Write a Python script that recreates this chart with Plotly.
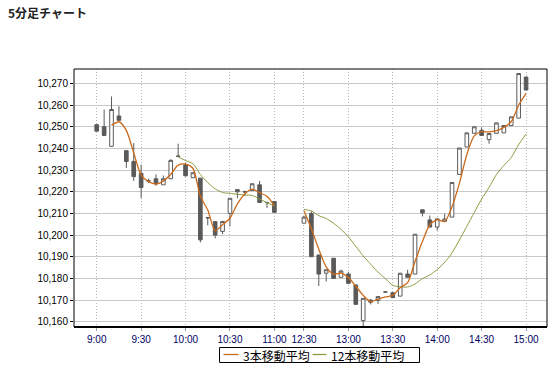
import plotly.graph_objects as go
import pandas as pd

# ---- data (5-minute bars) ----
times = ["9:00","9:05","9:10","9:15","9:20","9:25","9:30","9:35","9:40","9:45","9:50","9:55",
         "10:00","10:05","10:10","10:15","10:20","10:25","10:30","10:35","10:40","10:45","10:50","10:55","11:00",
         "12:30","12:35","12:40","12:45","12:50","12:55","13:00","13:05","13:10","13:15","13:20","13:25",
         "13:30","13:35","13:40","13:45","13:50","13:55","14:00","14:05","14:10","14:15","14:20","14:25",
         "14:30","14:35","14:40","14:45","14:50","14:55","15:00"]
opens = [10251,10250,10241,10255,10239,10234,10228.5,10225,10226,10223.2,10226,10236.4,
         10232.5,10226.5,10226.3,10208,10206.2,10201.7,10210,10221,10220,10220.6,10223.2,10215,10215.5,
         10205.5,10210,10190.8,10182.4,10189.3,10180.5,10182,10177,10160.5,10170,10169.8,10173.7,
         10173.4,10171.8,10182,10182,10211.7,10207,10203.7,10206.3,10208.3,10228,10240.7,10247,
         10248.4,10244.1,10247,10247.2,10250.6,10254,10273]
highs = [10251,10258,10264,10259.5,10239,10242.5,10232.5,10226,10228,10227.5,10235,10242.2,
         10233.3,10229,10226.3,10208,10206.5,10206.3,10217,10221,10220.5,10223.7,10225,10215.5,10215.5,
         10209,10211,10190.8,10184,10189.3,10184,10183,10177,10170.8,10170.3,10171.6,10174,
         10173.4,10182.4,10184,10200.4,10211.7,10209,10207.5,10209.8,10224.3,10240.2,10247.2,10250,
         10249.8,10246.9,10251.8,10250.6,10254.6,10274.6,10273]
lows = [10248,10246,10241,10253,10231,10225,10217,10224,10222.7,10223.2,10226,10236,
        10227,10226.5,10196.6,10204.5,10198.5,10200.5,10204,10217,10218,10220.6,10215,10212.5,10210.5,
        10205.5,10190,10176.5,10178.5,10180,10180.5,10177.7,10168,10157,10168,10168.2,10173.7,
        10171.1,10171.8,10180.5,10182,10208.6,10203.7,10202.1,10206.3,10208.3,10228,10240.7,10247,
        10246,10242.2,10247,10247.2,10250.6,10254,10267]
closes = [10248,10246,10258,10253,10234,10227,10222,10225,10223.7,10226,10234.5,10236.4,
          10227.4,10228.8,10197.8,10208,10200,10206.3,10217,10220,10220,10223.7,10215.1,10215,10210.5,
          10208.3,10190,10182,10184,10180,10183.4,10177.7,10168,10170.8,10169,10171.6,10173.7,
          10171.1,10182.4,10180.5,10200.4,10210.2,10203.7,10207.5,10207.4,10224.3,10240.2,10247.2,10250,
          10246,10246.9,10251.8,10250.6,10254.6,10274.6,10267]

tick_labels = ["9:00","9:30","10:00","10:30","11:00","12:30","13:00","13:30","14:00","14:30","15:00"]
lunch_gap_slots = 3  # empty slots drawn between 11:00 and 12:30


def slot_of(t):
    h, m = map(int, t.split(":"))
    mins = h * 60 + m
    if mins <= 11 * 60:
        return (mins - 9 * 60) // 5
    return 24 + 1 + lunch_gap_slots + (mins - (12 * 60 + 30)) // 5


xs = [slot_of(t) for t in times]
tickvals = [slot_of(t) for t in tick_labels]

ma3 = pd.Series(closes).rolling(3).mean().tolist()
ma12 = pd.Series(closes).rolling(12).mean().tolist()


def with_gap(x, y):
    ox, oy = [], []
    for i, (a, b) in enumerate(zip(x, y)):
        if i > 0 and a - x[i - 1] > 1:
            ox.append(None)
            oy.append(None)
        ox.append(a)
        oy.append(None if pd.isna(b) else b)
    return ox, oy


gx3, gy3 = with_gap(xs, ma3)
gx12, gy12 = with_gap(xs, ma12)

CANDLE = "#5a5a5a"
ORANGE = "#cc6a1c"
GREEN = "#8c9c40"

fig = go.Figure()
fig.add_trace(go.Candlestick(
    x=xs, open=opens, high=highs, low=lows, close=closes,
    increasing=dict(fillcolor="white", line=dict(color=CANDLE, width=1)),
    decreasing=dict(fillcolor=CANDLE, line=dict(color=CANDLE, width=1)),
    whiskerwidth=0, showlegend=False, hoverinfo="skip"))
fig.add_trace(go.Scatter(x=gx12, y=gy12, mode="lines", connectgaps=False,
                         line=dict(color=GREEN, width=1, shape="spline", smoothing=0.7),
                         showlegend=False, hoverinfo="skip"))
fig.add_trace(go.Scatter(x=gx3, y=gy3, mode="lines", connectgaps=False,
                         line=dict(color=ORANGE, width=1.3, shape="spline", smoothing=0.7),
                         showlegend=False, hoverinfo="skip"))

L, R, T, B = 74, 13, 69, 40
W, H = 560, 367
pw, ph = W - L - R, H - T - B


def px_x(p):
    return (p - L) / pw


def px_y(p):
    return (H - B - p) / ph


shapes = [
    dict(type="rect", xref="paper", yref="paper", x0=0, x1=1, y0=0, y1=1,
         line=dict(color="black", width=1)),
    dict(type="line", xref="paper", yref="paper", x0=0, x1=1, y0=0, y1=0,
         line=dict(color="black", width=2)),
    # legend box
    dict(type="rect", xref="paper", yref="paper", x0=px_x(219.5), x1=px_x(419.5),
         y0=px_y(362.5), y1=px_y(347.5), line=dict(color="black", width=1), fillcolor="white"),
    dict(type="line", xref="paper", yref="paper", x0=px_x(223.5), x1=px_x(238.5),
         y0=px_y(354.5), y1=px_y(354.5), line=dict(color=ORANGE, width=1.3)),
    dict(type="line", xref="paper", yref="paper", x0=px_x(312.5), x1=px_x(326.5),
         y0=px_y(354.5), y1=px_y(354.5), line=dict(color=GREEN, width=1.3)),
]
annotations = [
    dict(text="3本移動平均", xref="paper", yref="paper", x=px_x(240.5), y=px_y(355),
         xanchor="left", yanchor="middle", showarrow=False,
         font=dict(family="Noto Sans CJK JP", size=12, color="black")),
    dict(text="12本移動平均", xref="paper", yref="paper", x=px_x(329), y=px_y(355),
         xanchor="left", yanchor="middle", showarrow=False,
         font=dict(family="Noto Sans CJK JP", size=12, color="black")),
]

fig.update_layout(
    width=W, height=H,
    margin=dict(l=L, r=R, t=T, b=B),
    paper_bgcolor="white", plot_bgcolor="white",
    title=dict(text="<b>5分足チャート</b>", xref="container", yref="container",
               x=8 / W, xanchor="left", y=1 - 14 / H, yanchor="middle",
               font=dict(family="Noto Sans CJK JP", size=12, color="#222222")),
    boxgap=0.3, boxgroupgap=0.3,
    shapes=shapes, annotations=annotations,
    showlegend=False,
    xaxis=dict(range=[-3.07, 60.83], tickvals=tickvals, ticktext=tick_labels,
               showgrid=True, gridcolor="#b8b8b8", griddash="1px,2px", gridwidth=1,
               ticks="outside", ticklen=3, tickcolor="#999999",
               tickfont=dict(family="Liberation Sans", size=10, color="#000066"),
               zeroline=False, showline=False, rangeslider=dict(visible=False),
               fixedrange=True),
    yaxis=dict(range=[10157.55, 10276.7], dtick=10, tick0=10160, tickformat=",d",
               showgrid=True, gridcolor="#c8c8c8", gridwidth=1,
               ticks="outside", ticklen=3, tickcolor="black",
               tickfont=dict(family="Liberation Sans", size=10, color="black"),
               zeroline=False, showline=False, fixedrange=True),
)

fig.write_html("out.html")
